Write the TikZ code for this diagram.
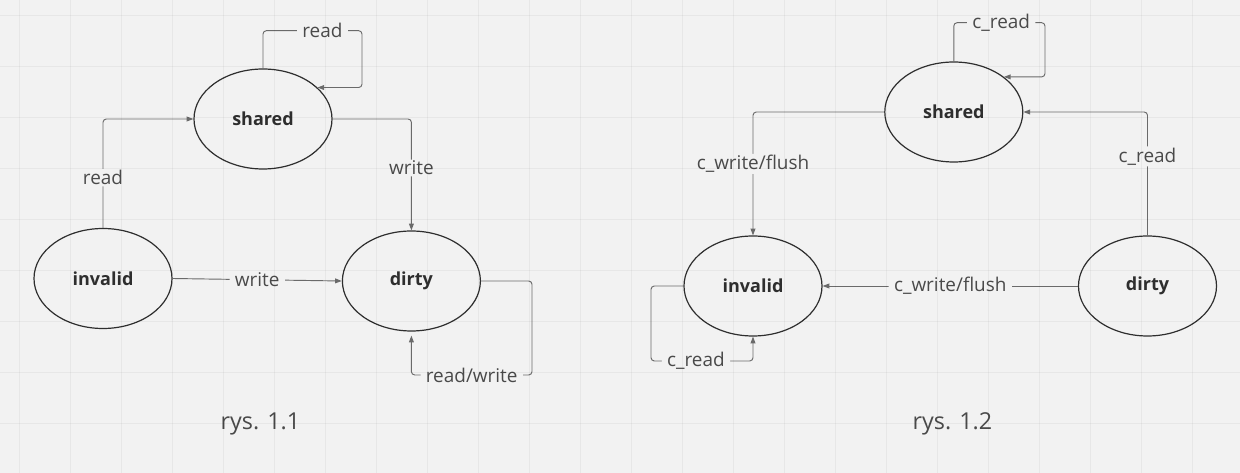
\documentclass[tikz,border=0pt]{standalone}
\usepackage{fontspec}
\setmainfont{Open Sans}
\usetikzlibrary{arrows.meta,shapes.geometric}
\definecolor{bg}{HTML}{F2F2F2}
\definecolor{edgec}{HTML}{6A6A6A}
\definecolor{nodec}{HTML}{2E2E2E}
\definecolor{txtc}{HTML}{4A4A4A}
\begin{document}
\begin{tikzpicture}[x=0.75pt,y=-0.75pt,
  state/.style={ellipse,draw=nodec,line width=0.9pt,minimum width=103.5pt,minimum height=75pt,inner sep=0pt,font=\fontsize{13.5}{16}\selectfont\bfseries,text=nodec},
  conn/.style={draw=edgec,line width=0.7pt,rounded corners=2.5pt,-{Triangle[length=5pt,width=3.6pt]}},
  lbl/.style={fill=bg,inner xsep=4pt,inner ysep=1pt,text=txtc,font=\fontsize{14.2}{16}\selectfont},
  captxt/.style={text=txtc,font=\fontsize{17.5}{20}\selectfont},
  gridline/.style={draw=black,opacity=0.045,line width=0.6pt}]
\fill[bg] (0,0) rectangle (1240,473);
\useasboundingbox (0,0) rectangle (1240,473);

% left diagram
\node[state] (shared) at (263,119) {shared};
\node[state] (invalid) at (103,278.5) {invalid};
\node[state] (dirty) at (411.4,281) {dirty};
\coordinate (sl) at (362,30.7);
\coordinate (dl) at (532,375);

\draw[conn] (shared.north) |- node[lbl,pos=0.8]{read} (sl) |- (shared.30.7);
\draw[conn] (invalid.north) |- node[lbl,pos=0.23]{read} (shared.west);
\draw[conn] (shared.east) -| node[lbl,pos=0.72]{write} (dirty.north);
\draw[conn] (invalid.east) -- node[lbl]{write} (dirty.west);
\draw[conn,shorten >=3pt] (dirty.east) -| (dl) -| node[lbl,pos=0.25]{read/write} (dirty.south);
\node[captxt] (cap1) at (260.4,424) {rys. 1.1};

% right diagram
\node[state] (shared2) at (953.8,112) {shared};
\node[state] (invalid2) at (753,286) {invalid};
\node[state] (dirty2) at (1147.5,286) {dirty};
\coordinate (sl2) at (1045,22.7);
\coordinate (il) at (651,361);

\draw[conn] (shared2.north) |- node[lbl,pos=0.76]{c\_read} (sl2) |- (shared2.35.8);
\draw[conn] (shared2.west) -| node[lbl,pos=0.71]{c\_write/flush} (invalid2.north);
\draw[conn] (dirty2.north) |- node[lbl,pos=0.32]{c\_read} (shared2.east);
\draw[conn] (dirty2.west) -- node[lbl]{c\_write/flush} (invalid2.east);
\draw[conn] (invalid2.west) -| (il) -| node[lbl,pos=0.22]{c\_read} (invalid2.south);
\node[captxt] (cap2) at (952.5,424) {rys. 1.2};

% faint grid on top
\foreach \i in {0,...,23} \draw[gridline] ({19.8+51*\i},0) -- ({19.8+51*\i},473);
\foreach \j in {0,...,8} \draw[gridline] (0,{15+51*\j}) -- (1240,{15+51*\j});
\end{tikzpicture}
\end{document}
